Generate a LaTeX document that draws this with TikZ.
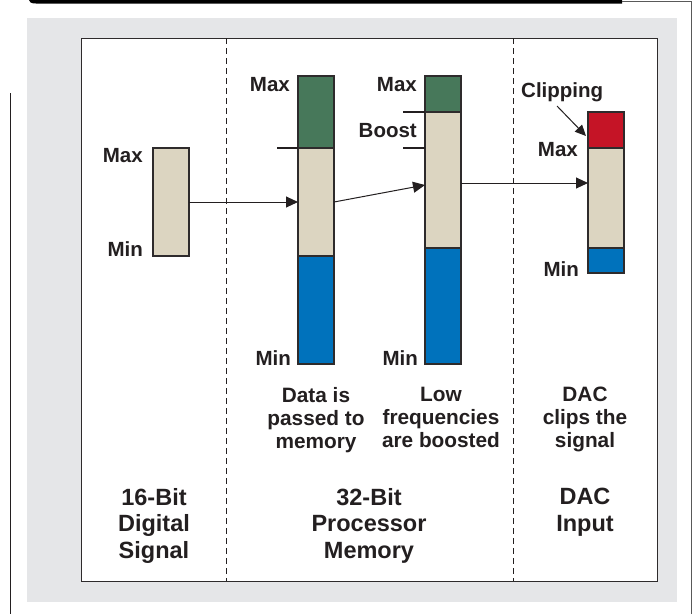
\documentclass[tikz,border=0pt]{standalone}
\usepackage{fontspec}
\setmainfont{Liberation Sans}
\usetikzlibrary{arrows.meta}
\definecolor{panel}{HTML}{E5E6E8}
\definecolor{ink}{HTML}{231F20}
\definecolor{segline}{HTML}{2E2B2C}
\definecolor{beige}{HTML}{DCD5C1}
\definecolor{sgreen}{HTML}{47785A}
\definecolor{sblue}{HTML}{0072BC}
\definecolor{sred}{HTML}{C51426}
\tikzset{
  seg/.style={draw=segline, line width=1.1pt, inner sep=0pt, minimum width=36pt, anchor=north west, outer sep=0pt},
  lab/.style={font=\fontsize{20.5}{22}\selectfont\bfseries, text=ink, inner sep=0pt, anchor=east},
  captext/.style={font=\fontsize{20.8}{23}\selectfont\bfseries, text=ink, align=center, inner sep=0pt, anchor=north},
  titletext/.style={font=\fontsize{23.5}{26.5}\selectfont\bfseries, text=ink, align=center, inner sep=0pt, anchor=north},
  conn/.style={draw=ink, line width=1pt, -{Triangle[length=12pt,width=11pt]}},
  tickline/.style={draw=ink, line width=1.6pt},
  divider/.style={draw=ink, line width=0.9pt, dash pattern=on 6pt off 4pt}
}
\begin{document}
\begin{tikzpicture}[x=1pt,y=-1pt]
\useasboundingbox (0,0) rectangle (694,614);
% page decoration
\fill[black] (29,0) -- (622,0) -- (622,3.5) -- (36,3.5) .. controls (31,3.5) and (29,2) .. (29,0) -- cycle;
\draw[gray!70!black, line width=0.8pt] (622,1.5) -- (691.5,1.5) -- (691.5,614);
\draw[ink, line width=1pt] (10,93) -- (10,614);
% panel and frame
\fill[panel] (27,18) rectangle (677,602);
\node[draw=segline, fill=white, line width=1.4pt, inner sep=0pt, anchor=north west, minimum width=576pt, minimum height=543pt] (frame) at (81,38) {};
\coordinate (d1t) at (226,38); \coordinate (d1b) at (226,581);
\coordinate (d2t) at (513,38); \coordinate (d2b) at (513,581);
\draw[divider] (d1t) -- (d1b);
\draw[divider] (d2t) -- (d2b);
% bar 1
\node[seg, fill=beige, minimum height=108pt] (b1) at (153,148) {};
% bar 2
\node[seg, fill=sgreen, minimum height=72pt] (b2g) at (298,76) {};
\node[seg, fill=beige, minimum height=108pt] (b2m) at (298,148) {};
\node[seg, fill=sblue, minimum height=108pt] (b2b) at (298,256) {};
% bar 3
\node[seg, fill=sgreen, minimum height=36pt] (b3g) at (425,76) {};
\node[seg, fill=beige, minimum height=136pt] (b3m) at (425,112) {};
\node[seg, fill=sblue, minimum height=116pt] (b3b) at (425,248) {};
% bar 4
\node[seg, fill=sred, minimum height=36pt] (b4r) at (588,112) {};
\node[seg, fill=beige, minimum height=100pt] (b4m) at (588,148) {};
\node[seg, fill=sblue, minimum height=25pt] (b4b) at (588,248) {};
% ticks
\draw[tickline] (b2m.north west) -- ++(-21,0);
\draw[tickline] (b3m.north west) -- ++(-22,0);
\draw[tickline] ([yshift=-36pt]b3m.north west) -- ++(-22,0);
% labels
\node[lab] (l1max) at (143,156) {Max};
\node[lab] (l1min) at (143,249) {Min};
\node[lab] (l2max) at (290,85) {Max};
\node[lab] (l2min) at (291,358) {Min};
\node[lab] (l3max) at (417,85) {Max};
\node[lab] (l3boost) at (417,131) {Boost};
\node[lab] (l3min) at (418,358) {Min};
\node[lab, anchor=west] (clip) at (521,92) {Clipping};
\node[lab] (l4max) at (578,150) {Max};
\node[lab] (l4min) at (579,269) {Min};
% connectors
\draw[conn] (b1.east) -- (b2m.west);
\draw[conn] (b2m.east) -- ([yshift=-5pt]b3m.west);
\draw[conn] ([yshift=-3pt]b3m.east) -- ([yshift=-3pt]b3m.east -| b4m.west);
\coordinate (clipfrom) at (557,106);
\draw[draw=ink, line width=1pt, -{Triangle[length=11pt,width=10pt]}] (clipfrom) -- ([xshift=-2pt,yshift=-6pt]b4r.west);
% captions
\node[captext] (c1) at (316,387) {Data is\\passed to\\memory};
\node[captext] (c2) at (441,387) {Low\\frequencies\\are boosted};
\node[captext] (c3) at (585,387) {DAC\\clips the\\signal};
\node[titletext] (t1) at (154,488) {16-Bit\\Digital\\Signal};
\node[titletext] (t2) at (369,488) {32-Bit\\Processor\\Memory};
\node[titletext] (t3) at (585,488) {DAC\\Input};
\end{tikzpicture}
\end{document}
